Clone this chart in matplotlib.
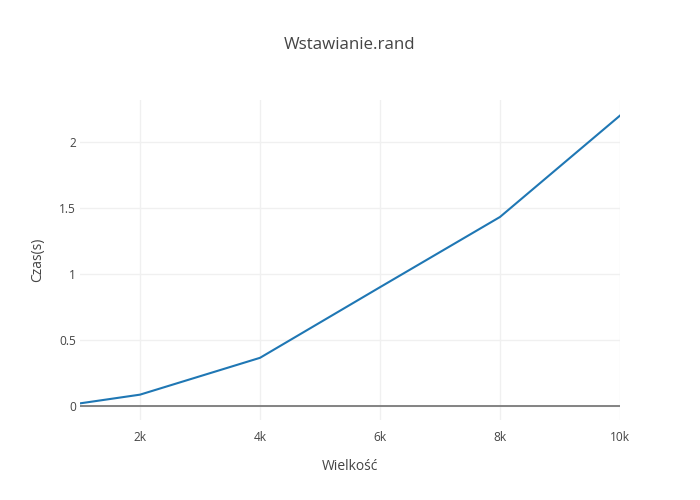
import matplotlib
matplotlib.use("Agg")
import matplotlib.pyplot as plt
from matplotlib.ticker import FixedLocator

plt.rcParams['font.family'] = ['Open Sans', 'DejaVu Sans']

sizes = [1000, 2000, 4000, 6000, 8000, 10000]
times = [0.02, 0.086, 0.365, 0.9, 1.432, 2.2]
x_ticks = [2000, 4000, 6000, 8000, 10000]
x_tick_labels = ["2k", "4k", "6k", "8k", "10k"]
y_ticks = [0, 0.5, 1, 1.5, 2]
y_tick_labels = ["0", "0.5", "1", "1.5", "2"]

title = "Wstawianie.rand"
xlabel = "Wielkość"
ylabel = "Czas(s)"

fig = plt.figure(figsize=(7, 5), dpi=100)
ax = fig.add_axes([80/700, 80/500, 540/700, 320/500])

ax.plot(sizes, times, color='#1f77b4', lw=1.5, zorder=3, solid_joinstyle='round')
ax.set_xlim(1000, 10000)
ax.set_ylim(-0.106, 2.318)
ax.axhline(0, color='#7a7a7a', lw=1.3, zorder=2)

ax.xaxis.set_major_locator(FixedLocator(x_ticks))
ax.set_xticklabels(x_tick_labels)
ax.yaxis.set_major_locator(FixedLocator(y_ticks))
ax.set_yticklabels(y_tick_labels)
ax.grid(True, color='#f0f0f0', lw=1, zorder=0)
ax.set_axisbelow(True)
for s in ax.spines.values():
    s.set_visible(False)
ax.tick_params(length=0, labelsize=8.6, labelcolor='#444444', pad=8)
ax.tick_params(axis='y', pad=3)

fig.text(350/700, 1 - 45/500, title, ha='center', va='center', fontsize=12.2, color='#444444')
fig.text(350/700, 1 - 467/500, xlabel, ha='center', va='center', fontsize=10, color='#444444')
fig.text(38/700, 1 - 260/500, ylabel, ha='center', va='center', fontsize=10, color='#444444', rotation=90)

fig.savefig("out.png", dpi=100, facecolor='white')
